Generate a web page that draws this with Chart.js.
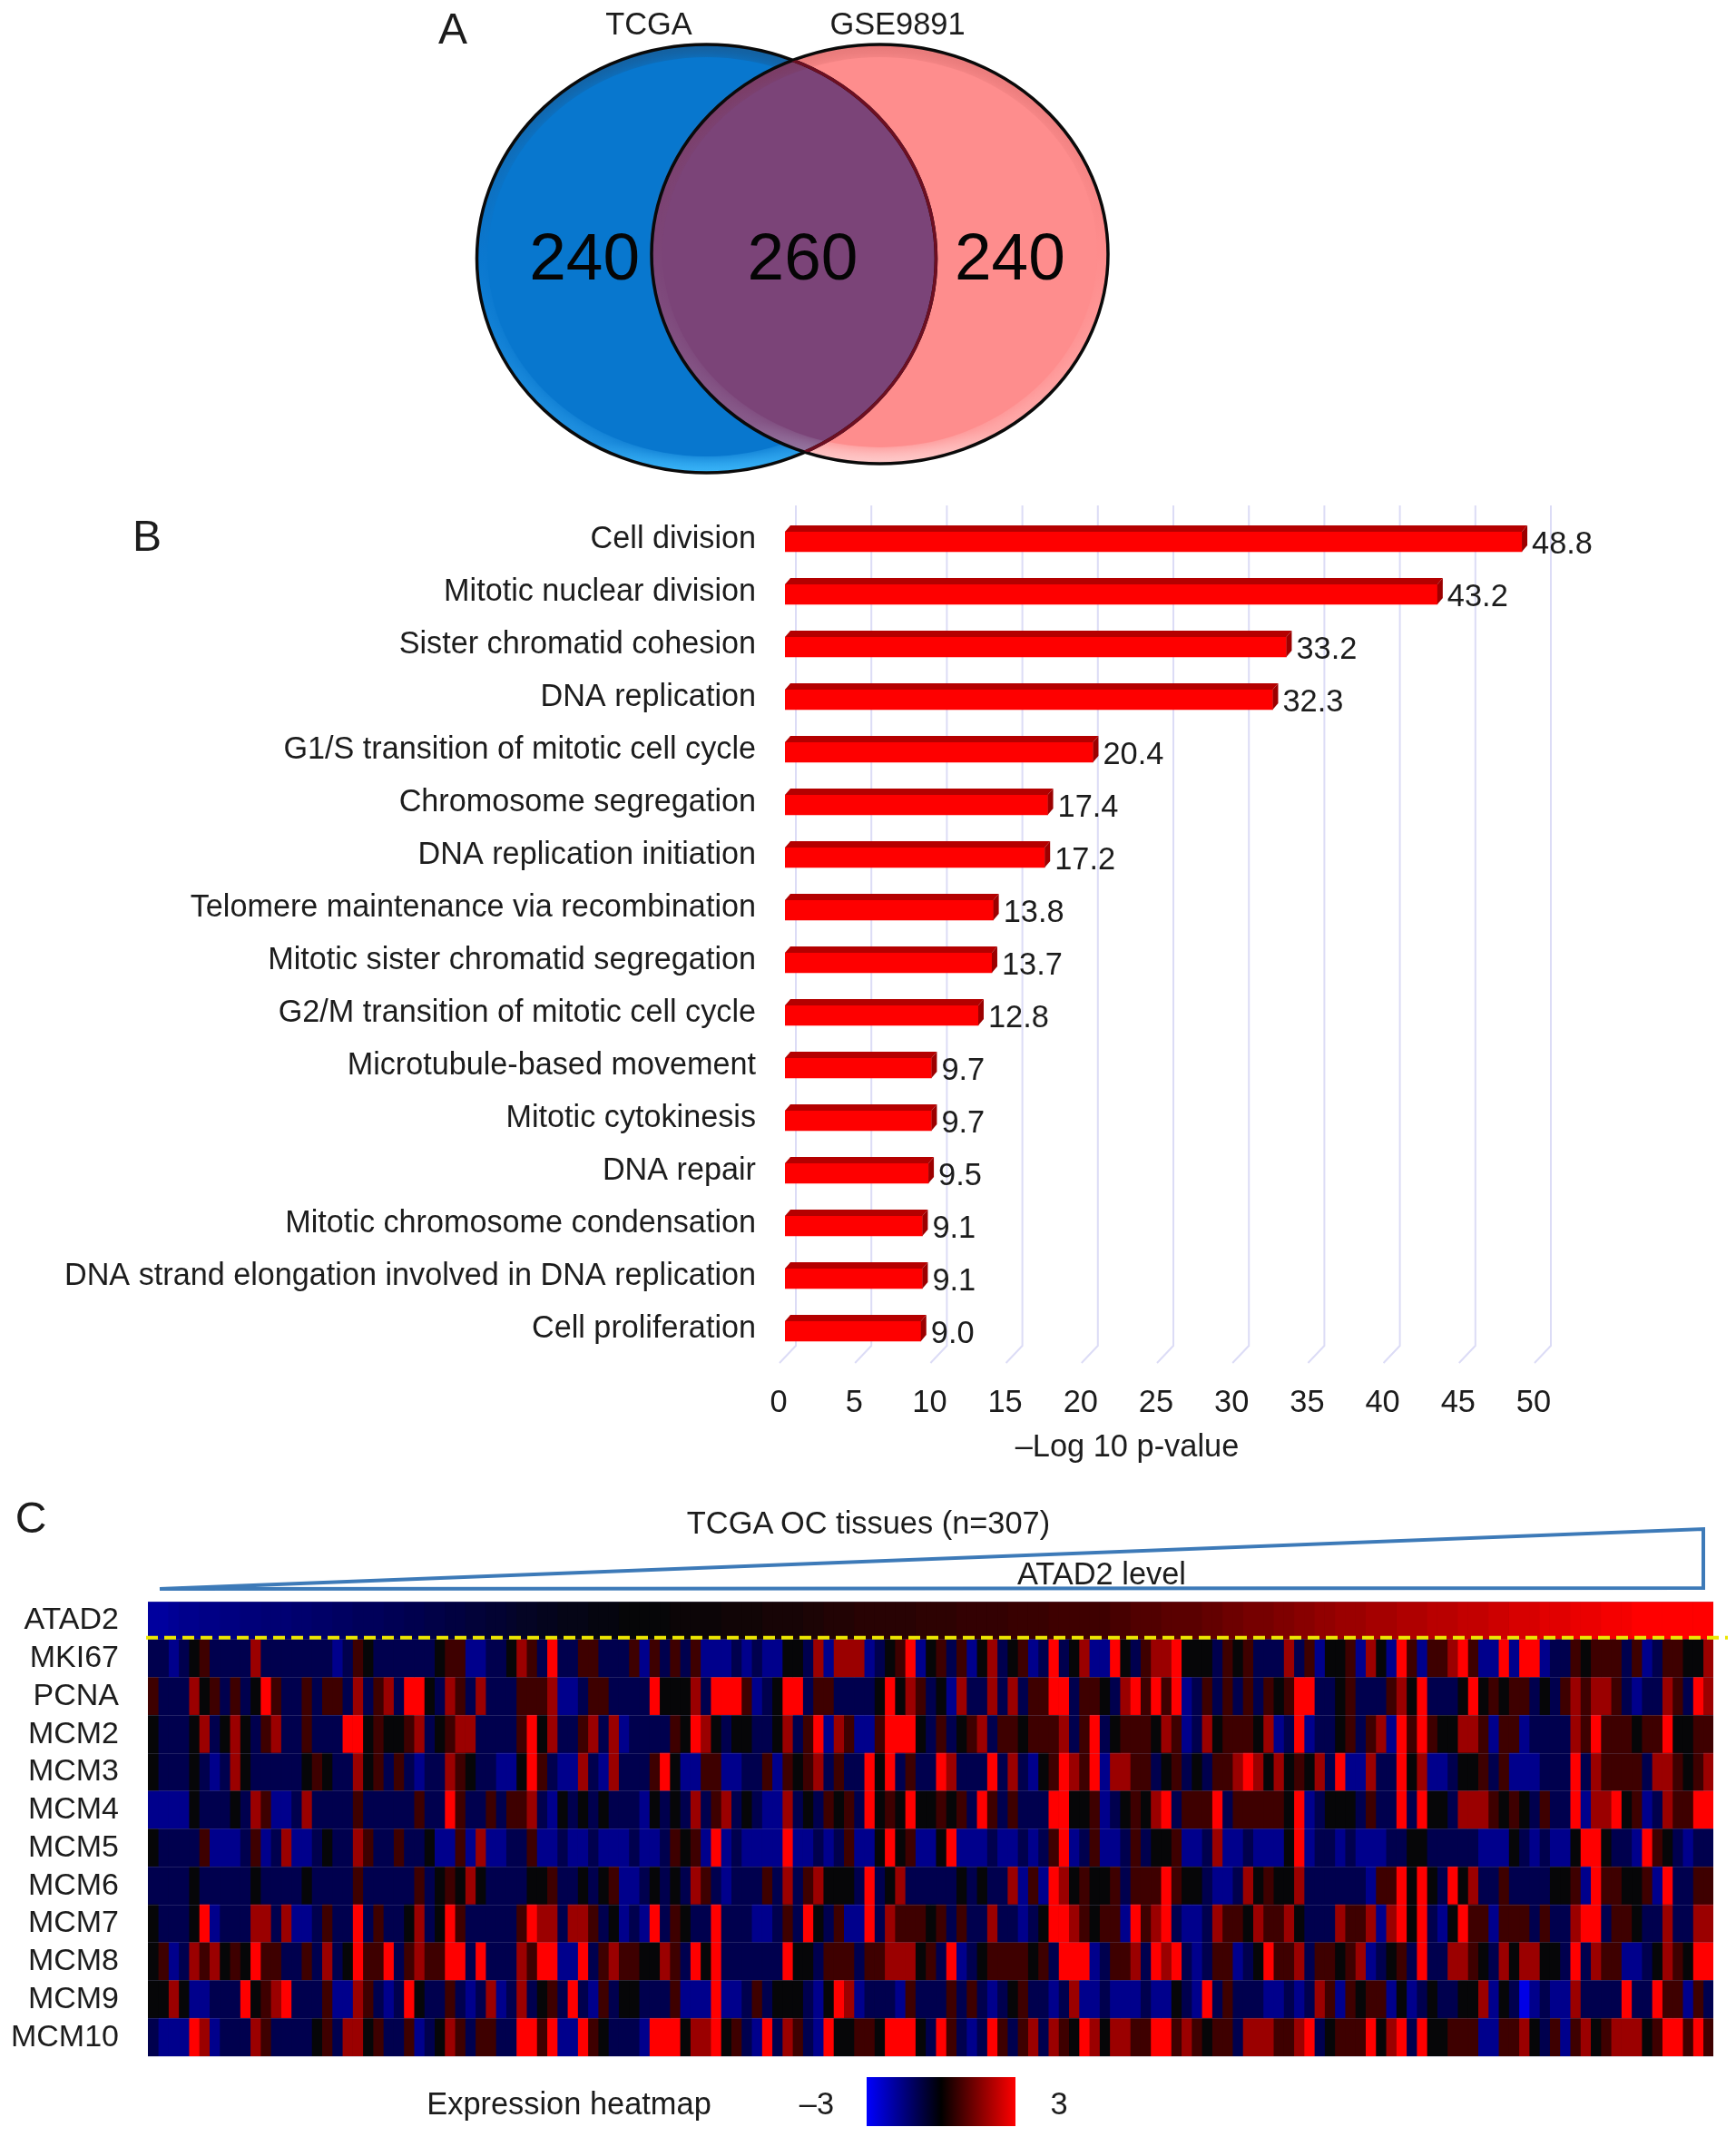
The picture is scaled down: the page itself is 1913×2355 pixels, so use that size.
<!DOCTYPE html>
<html>
<head>
<title>ATAD2 figure</title>
<script src="https://cdn.jsdelivr.net/npm/chart.js"></script>
<style>
  html, body { margin: 0; background: #fff; }
  #page { position: relative; width: 1913px; height: 2355px; overflow: hidden; font-family: "Liberation Sans", Arial, sans-serif; color: #1c1c1c; }
  canvas { position: absolute; left: 0; }
  .t { position: absolute; transform: translate(-50%, -50%); font-size: 34.4px; white-space: nowrap; }
  .panel { font-size: 48px; }
  #scale { position: absolute; left: 955px; top: 2289px; width: 164px; height: 54px; background: linear-gradient(90deg, #0000ff, #000 50%, #ff0000); }
</style>
</head>
<body>
<div id="page">
  <canvas id="vennChart" width="1913" height="540" style="top:0"></canvas>
  <canvas id="termChart" width="1913" height="1100" style="top:540px"></canvas>
  <canvas id="heatChart" width="1913" height="695" style="top:1660px"></canvas>
  <div class="t panel" style="left:499px;top:31px">A</div>
  <div class="t panel" style="left:162px;top:590px">B</div>
  <div class="t panel" style="left:34px;top:1672px">C</div>
  <div class="t" style="left:715px;top:26px">TCGA</div>
  <div class="t" style="left:989px;top:26px">GSE9891</div>
  <div class="t" style="left:1242px;top:1593px">–Log 10 p-value</div>
  <div class="t" style="left:957px;top:1678px">TCGA OC tissues (n=307)</div>
  <div class="t" style="left:1214px;top:1734px">ATAD2 level</div>
  <div class="t" style="left:627px;top:2318px">Expression heatmap</div>
  <div class="t" style="left:900px;top:2318px">–3</div>
  <div id="scale"></div>
  <div class="t" style="left:1167px;top:2318px">3</div>
</div>
<script>
// panel A
const vennRegions = ['TCGA only', 'Both', 'GSE9891 only'];
const vennCounts = [240, 260, 240];

// panel B
const terms = ['Cell division', 'Mitotic nuclear division', 'Sister chromatid cohesion', 'DNA replication',
  'G1/S transition of mitotic cell cycle', 'Chromosome segregation', 'DNA replication initiation',
  'Telomere maintenance via recombination', 'Mitotic sister chromatid segregation',
  'G2/M transition of mitotic cell cycle', 'Microtubule-based movement', 'Mitotic cytokinesis', 'DNA repair',
  'Mitotic chromosome condensation', 'DNA strand elongation involved in DNA replication', 'Cell proliferation'];
const logP = [48.8, 43.2, 33.2, 32.3, 20.4, 17.4, 17.2, 13.8, 13.7, 12.8, 9.7, 9.7, 9.5, 9.1, 9.1, 9.0];
const logPText = ['48.8', '43.2', '33.2', '32.3', '20.4', '17.4', '17.2', '13.8', '13.7', '12.8', '9.7', '9.7', '9.5', '9.1', '9.1', '9.0'];

// panel C, expression read by eye, binned columns
const genes = ['ATAD2', 'MKI67', 'PCNA', 'MCM2', 'MCM3', 'MCM4', 'MCM5', 'MCM6', 'MCM7', 'MCM8', 'MCM9', 'MCM10'];
const ATAD2 = [-2.2,-2.2,-2.1,-2.0,-2.0,-1.9,-1.9,-1.8,-1.8,-1.7,-1.7,-1.6,-1.6,-1.6,-1.5,-1.5,-1.4,-1.4,-1.3,-1.3,-1.2,-1.2,-1.2,-1.1,-1.1,-1.0,-1.0,-0.9,-0.9,-0.8,-0.8,-0.7,-0.7,-0.6,-0.6,-0.5,-0.4,-0.4,
  -0.3,-0.3,-0.2,-0.2,-0.2,-0.1,-0.1,-0.1,0,0,0,0,0,0.1,0.1,0.1,0.1,0.1,0.2,0.2,0.2,0.2,0.3,0.3,0.3,0.3,0.4,0.4,0.5,0.5,0.5,0.6,0.6,0.6,0.6,0.6,0.6,0.7,0.7,
  0.7,0.7,0.8,0.8,0.8,0.8,0.8,0.9,0.9,0.9,0.9,1,1,1,1,1,1,1.1,1.1,1.2,1.2,1.2,1.3,1.3,1.3,1.3,1.4,1.4,1.5,1.5,1.6,1.6,1.6,1.7,1.7,1.8,1.8,1.9,1.9,
  2,2,2,2.1,2.1,2.1,2.2,2.2,2.2,2.3,2.3,2.3,2.4,2.4,2.4,2.5,2.5,2.6,2.6,2.6,2.7,2.7,2.7,2.8,2.8,2.8,2.9,2.9,2.9,3,3,3,3,3,3,3,3];
const MKI67 = [-1,-1,-2,-1,0,1,-1,-1,-1,-1,2,-1,-1,-1,-1,-1,-1,-1,-2,-1,1,0,-1,-1,-1,-1,-1,-1,0,1,1,-2,-2,-1,-1,0,2,1,
  -1,3,-1,-1,1,1,-1,-1,-1,1,-2,1,-1,1,-1,1,-2,-2,-2,-1,-2,-1,-2,-2,0,0,-1,2,-2,2,2,2,-2,-1,0,1,3,-2,0,
  1,-1,1,-2,0,2,-1,0,1,-2,-1,3,-1,0,2,-2,-2,3,0,-1,1,2,2,3,0,0,0,-1,1,0,1,-1,-1,-1,2,-1,1,-2,0,
  0,1,-2,2,0,-2,3,1,-2,1,1,2,3,1,-2,-2,3,-2,3,3,-2,-1,-1,1,0,1,1,1,-1,1,-2,-1,1,1,0,0,2];
const PCNA = [1,-1,-1,-1,2,0,1,-1,1,-1,0,3,1,-1,-1,1,-1,1,1,-1,2,-1,1,2,-1,3,3,0,-1,2,1,-1,2,-1,-1,-1,1,1,
  1,2,-2,-2,-1,1,1,-1,-1,-1,-1,3,0,0,0,2,-1,3,3,3,1,-2,-1,0,3,3,-1,1,1,-1,-1,-1,-1,0,3,0,2,1,-1,
  0,-2,2,-1,-1,2,-1,2,-1,1,1,3,3,-1,1,1,0,-1,2,3,1,3,1,3,-2,-1,1,-1,1,-1,1,-1,1,0,1,3,3,-1,-1,
  0,1,-1,-1,-1,1,2,0,3,-1,-1,-1,0,3,0,1,0,1,1,-1,0,-1,1,2,1,2,2,1,-1,-2,-1,-1,2,1,-1,3,2];
const MCM2 = [0,-1,-1,-1,0,2,-1,0,2,0,-1,1,2,-1,-1,1,-1,-1,-1,3,3,0,1,0,0,1,2,-1,0,1,2,2,-1,-1,-1,-1,1,3,
  0,2,-1,-1,1,2,-1,2,-2,-1,-1,-1,-1,1,0,3,2,0,-1,0,0,-1,-1,0,2,-1,1,3,-2,2,1,-2,-2,1,3,3,3,0,-1,
  1,-1,0,1,2,-1,1,1,0,1,1,1,2,-1,1,3,-1,0,1,1,1,0,2,1,-2,-1,2,0,1,1,1,0,2,-2,-1,3,-2,-1,-1,
  0,1,-1,1,2,-2,3,1,3,1,0,0,2,2,1,-2,1,1,-2,-1,-1,-1,-1,2,1,3,1,1,1,0,1,1,3,0,0,1,1];
const MCM3 = [0,-1,-1,-1,0,-1,-2,-1,2,0,-1,-1,-1,-1,-1,0,1,0,-1,-1,2,0,1,-1,1,-1,-2,-1,-1,2,1,0,-1,-1,-2,-2,0,3,
  1,-1,-2,-2,2,-1,-2,2,-1,-1,-1,1,3,0,-2,-2,1,1,-2,-2,-1,-1,1,-2,1,0,1,2,-1,1,-1,-1,3,0,3,-1,1,-1,-1,
  3,2,-1,-1,-1,3,-1,2,-1,-2,0,1,3,2,1,3,-2,2,2,1,1,-1,0,1,-1,0,-1,1,1,2,3,2,0,2,0,1,0,2,-1,
  3,-2,-2,2,-1,-1,3,0,2,-2,-2,-1,0,0,1,-1,1,-2,-2,-2,-1,-1,-1,3,-1,2,1,1,1,1,-1,2,2,1,0,1,2];
const MCM4 = [-2,-2,-2,-2,0,-1,-1,-1,0,-1,2,1,-2,-2,-1,2,-1,-1,-1,-1,1,-1,-1,-1,-1,-1,1,-1,-1,3,1,-1,-1,1,-1,1,1,2,
  -1,-2,0,-1,0,-1,0,-1,-1,-1,-2,0,-1,0,-1,2,-1,1,2,-1,0,-1,-2,-2,2,-1,0,-1,1,0,1,-1,3,0,1,0,3,0,0,
  1,0,1,-1,3,1,-1,1,-1,-1,-1,3,3,0,0,1,-2,-1,0,1,0,2,3,-1,1,1,1,3,-1,1,1,1,1,1,0,3,-2,-1,0,
  0,0,-1,1,-1,-1,3,-1,3,0,0,-1,2,2,2,1,0,1,0,-1,1,-1,-1,3,-2,2,2,3,0,1,-2,-1,2,1,1,3,3];
const MCM5 = [0,-1,-1,-1,-1,1,-2,-2,-2,-1,1,-2,-1,2,-2,-2,-1,0,-1,-1,2,1,-1,-1,1,-1,-1,0,-2,-2,1,-2,2,-2,-2,-1,-1,1,
  -2,-2,-1,-2,-2,-1,-2,-2,-2,-1,-2,-2,-1,1,0,1,-2,3,-2,-1,-2,-2,-2,-2,3,-2,-2,-1,-2,-1,1,-2,-2,0,3,0,1,-2,-2,
  0,3,-2,-2,-2,-1,-2,-2,-1,-2,-1,1,3,-2,-1,1,-2,-2,-1,1,-1,0,0,1,-2,-2,-1,2,-2,-2,-1,-2,-2,-2,0,3,-2,-1,-1,
  -2,-1,-2,-2,-2,-1,-1,0,0,-1,-1,-1,-1,-1,-2,-2,-2,0,-1,-2,-1,-2,-2,0,3,3,0,-1,-1,-2,3,1,0,-1,-2,-1,-1];
const MCM6 = [-1,-1,-1,-1,0,-1,-1,-1,-1,-1,0,-1,-1,-1,-1,0,-1,-1,-1,-1,1,-1,-1,-1,-1,-1,1,-1,0,1,0,2,0,-1,-1,-1,-1,0,
  0,1,-1,-1,0,-1,0,1,-2,-2,-1,0,-1,0,-1,2,1,-1,-2,-1,-1,-1,1,-1,2,-1,1,2,0,0,0,-1,3,-1,0,2,-1,-1,-1,
  -1,-1,0,-1,0,-1,-1,2,-2,1,-2,3,2,0,1,0,0,1,-1,1,1,1,3,1,0,0,-1,-2,-2,-1,2,0,1,0,0,2,-1,-1,-1,
  -1,-1,-1,-2,1,1,3,0,3,0,-1,3,0,2,-1,-1,1,-1,-1,-1,-1,0,0,1,-2,3,1,1,0,0,1,-2,3,-1,-1,1,1];
const MCM7 = [0,-1,-1,-1,0,3,-2,-1,-1,-1,2,2,-1,2,-2,-2,-1,1,-1,-1,3,-1,1,-1,-1,0,2,-1,0,3,1,-1,-1,-1,-1,-1,1,3,
  2,2,-1,2,2,1,-1,0,-2,-1,-2,3,-1,1,0,-1,-1,3,-1,-1,-1,-2,-2,-1,1,-1,3,0,-1,1,-2,-2,3,-1,2,1,1,1,0,
  1,-1,1,-1,-1,2,-1,-1,-2,-1,0,3,3,2,1,0,1,1,-2,3,1,2,3,-1,-2,-2,-1,2,1,1,0,2,1,1,2,0,-1,-1,-1,
  2,1,1,2,-2,2,3,0,3,-1,-2,0,3,1,1,-2,1,1,1,-1,1,-1,-1,2,3,3,-1,1,1,0,-1,-1,2,-1,-1,2,2];
const MCM8 = [0,1,-2,-1,2,1,2,0,1,0,3,1,1,-1,-1,1,-1,2,-1,0,3,1,1,3,-1,1,2,1,1,3,3,-1,3,-1,-1,-1,2,1,
  3,3,-2,-2,3,-1,1,2,1,1,0,0,2,1,-1,3,0,3,-1,-1,-1,-1,-1,-1,3,0,0,-1,1,1,1,-1,1,1,2,2,2,0,1,
  -1,3,-2,-1,0,1,1,1,1,0,1,-1,3,3,3,-2,-1,1,1,2,-1,3,2,3,-1,-2,-1,1,1,-2,-1,0,3,1,1,2,-1,1,1,
  0,1,2,-2,-1,0,1,-1,3,-1,-1,2,2,1,0,-1,2,0,2,2,0,0,-1,3,-1,2,1,1,-2,-2,-1,0,2,1,0,3,3];
const MCM9 = [0,0,2,0,-2,-2,-1,-1,-1,3,0,1,2,3,-1,-1,-1,1,-2,-2,2,1,-1,-2,-1,3,0,-1,-1,1,-1,-2,-1,2,-2,-1,2,-1,
  0,1,-1,3,-1,-2,1,-1,0,0,-1,-1,-1,1,-2,-2,-2,3,-2,-2,-1,1,-1,0,0,0,-1,-2,0,3,2,-2,-1,-1,-1,-2,1,-1,-1,
  -1,1,-1,1,-1,-2,-1,0,1,-1,-1,-2,-1,2,-2,-2,-1,-2,-2,-2,-1,-2,-2,0,-1,-2,3,-1,1,-1,-1,-1,-2,-2,-1,-2,-1,2,1,
  -2,1,0,1,1,-2,0,-2,-1,0,-1,-1,0,0,2,-2,0,-1,-3,-2,-1,-2,-2,2,-1,-1,-1,-1,3,-1,-1,3,1,1,-2,1,-1];
const MCM10 = [-1,-2,-2,-2,3,2,-2,-1,-1,-1,2,1,-1,-1,-1,-1,0,1,-1,2,2,0,1,-1,-1,1,-2,-1,0,2,1,-1,1,1,-1,-1,3,3,
  1,3,-2,-2,3,1,0,-1,-1,-1,-2,3,3,3,0,2,2,3,0,1,-1,-2,3,-1,2,1,-1,-2,3,0,0,1,1,0,3,3,3,0,-1,
  3,1,-1,-2,-1,3,1,-1,1,2,-1,2,1,0,3,2,0,2,2,1,1,3,3,1,2,1,0,1,1,-1,2,2,2,1,1,2,3,-1,0,
  1,1,1,3,0,2,3,-1,3,0,0,1,1,1,-2,-2,1,1,2,0,-1,1,-2,1,2,0,1,2,2,2,0,1,3,3,1,3,1];
const rows = [ATAD2, MKI67, PCNA, MCM2, MCM3, MCM4, MCM5, MCM6, MCM7, MCM8, MCM9, MCM10];

Chart.defaults.font.family = '"Liberation Sans", Arial, sans-serif';
Chart.defaults.color = '#1c1c1c';
Chart.defaults.animation = false;
Chart.defaults.responsive = false;
Chart.defaults.devicePixelRatio = 1;
Chart.defaults.plugins.legend.display = false;
Chart.defaults.plugins.tooltip.enabled = false;

function ellipse(ctx, cx, cy, rx, ry) {
  ctx.beginPath();
  ctx.ellipse(cx, cy, rx, ry, 0, 0, Math.PI * 2);
}

function shaded(ctx, e, stops, inner) {
  const g = ctx.createLinearGradient(0, e.cy - e.ry, 0, e.cy + e.ry);
  stops.forEach(s => g.addColorStop(s[0], s[1]));
  ctx.fillStyle = g;
  ellipse(ctx, e.cx, e.cy, e.rx, e.ry);
  ctx.fill();
  ctx.save();
  ctx.shadowColor = inner;
  ctx.shadowBlur = 14;
  ctx.fillStyle = inner;
  ellipse(ctx, e.cx, e.cy - 2, e.rx - 12, e.ry - 16);
  ctx.fill();
  ctx.restore();
}

const vennPlugin = {
  id: 'venn',
  beforeDatasetsDraw(chart) {
    const ctx = chart.ctx;
    const L = { cx: 778.5, cy: 285, rx: 253, ry: 236 };
    const R = { cx: 969.5, cy: 280, rx: 251.5, ry: 231 };
    const x = chart.scales.x;
    ctx.save();
    shaded(ctx, L, [[0, '#14609f'], [0.5, '#0a78d0'], [0.93, '#1f90e0'], [1, '#38b4f8']], '#0877ce');
    shaded(ctx, R, [[0, '#e87a7a'], [0.5, '#ff8c8c'], [0.92, '#ffa8a8'], [1, '#ffcaca']], '#fe8d8d');
    // overlap
    ctx.save();
    ellipse(ctx, L.cx, L.cy, L.rx, L.ry);
    ctx.clip();
    shaded(ctx, R, [[0, '#7b3b62'], [0.5, '#7c4578'], [0.9, '#875a8a'], [1, '#9a80a8']], '#7b4478');
    ctx.restore();
    ctx.lineWidth = 3.5;
    ctx.strokeStyle = '#0a0a0a';
    ellipse(ctx, L.cx, L.cy, L.rx, L.ry);
    ctx.stroke();
    ellipse(ctx, R.cx, R.cy, R.rx, R.ry);
    ctx.stroke();
    ctx.save();
    ellipse(ctx, R.cx, R.cy, R.rx - 1, R.ry - 1);
    ctx.clip();
    ctx.strokeStyle = '#6d0f22';
    ellipse(ctx, L.cx, L.cy, L.rx, L.ry);
    ctx.stroke();
    ctx.restore();
    // counts
    const nudge = [0, 6, 0];
    ctx.fillStyle = '#050505';
    ctx.font = '73px "Liberation Sans", Arial, sans-serif';
    ctx.textAlign = 'center';
    ctx.textBaseline = 'middle';
    vennCounts.forEach((c, i) => ctx.fillText(String(c), x.getPixelForValue(i) + nudge[i], 288));
    ctx.restore();
  }
};

new Chart(document.getElementById('vennChart'), {
  type: 'line',
  data: { labels: vennRegions, datasets: [{ data: vennCounts, showLine: false, pointRadius: 0 }] },
  options: {
    layout: { padding: { left: 527, right: 683 } },
    scales: { x: { display: false, offset: true }, y: { display: false } }
  },
  plugins: [vennPlugin]
});

const barPlugin = {
  id: 'bar3d',
  beforeDatasetsDraw(chart) {
    const ctx = chart.ctx, x = chart.scales.x, area = chart.chartArea;
    ctx.save();
    ctx.lineWidth = 2;
    x.ticks.forEach(t => {
      const px = x.getPixelForValue(t.value) + 12;
      ctx.strokeStyle = '#dcdcf6';
      ctx.beginPath();
      ctx.moveTo(px, area.top - 11);
      ctx.lineTo(px, area.bottom - 13);
      ctx.lineTo(px - 18, area.bottom + 6);
      ctx.stroke();
    });
    ctx.restore();
  },
  afterDatasetsDraw(chart) {
    const ctx = chart.ctx;
    ctx.save();
    ctx.font = '34.4px "Liberation Sans", Arial, sans-serif';
    ctx.textBaseline = 'middle';
    chart.getDatasetMeta(0).data.forEach((el, i) => {
      const top = el.y - el.height / 2, bottom = el.y + el.height / 2;
      ctx.fillStyle = '#b40000';
      ctx.beginPath();
      ctx.moveTo(el.base, top);
      ctx.lineTo(el.base + 6, top - 7);
      ctx.lineTo(el.x + 6, top - 7);
      ctx.lineTo(el.x, top);
      ctx.closePath();
      ctx.fill();
      ctx.fillStyle = '#9c0000';
      ctx.beginPath();
      ctx.moveTo(el.x, top);
      ctx.lineTo(el.x + 6, top - 7);
      ctx.lineTo(el.x + 6, bottom - 7);
      ctx.lineTo(el.x, bottom);
      ctx.closePath();
      ctx.fill();
      ctx.fillStyle = '#1c1c1c';
      ctx.fillText(logPText[i], el.x + 11, el.y + 4);
    });
    ctx.restore();
  }
};

new Chart(document.getElementById('termChart'), {
  type: 'bar',
  data: { labels: terms, datasets: [{ data: logP, backgroundColor: '#fe0000', barThickness: 22 }] },
  options: {
    indexAxis: 'y',
    layout: { padding: { top: 28, right: 216 } },
    scales: {
      x: {
        min: 0, max: 50,
        ticks: { stepSize: 5, font: { size: 34.4 }, labelOffset: -7, padding: 22, maxRotation: 0 },
        grid: { display: false }, border: { display: false },
        afterFit: s => { s.height = 144; }
      },
      y: {
        ticks: { autoSkip: false, font: { size: 34.2 }, padding: 24, labelOffset: -2 },
        grid: { display: false }, border: { display: false },
        afterFit: s => { s.width = 865; s.paddingTop = 0; s.paddingBottom = 0; }
      }
    }
  },
  plugins: [barPlugin]
});

// colours of the levels as they look in the reference
const levelColors = [[-3, [0, 0, 230]], [-2, [0, 0, 140]], [-1, [0, 0, 78]], [0, [6, 6, 8]], [1, [62, 0, 0]], [2, [155, 0, 0]], [3, [255, 0, 0]]];

function expressionColor(v) {
  for (let i = 1; i < levelColors.length; i++) {
    const [a, ca] = levelColors[i - 1], [b, cb] = levelColors[i];
    if (v <= b) {
      const t = Math.max(0, (v - a) / (b - a));
      return `rgb(${ca.map((c, k) => Math.round(c + (cb[k] - c) * t)).join(',')})`;
    }
  }
  return 'rgb(255,0,0)';
}

const colCount = Math.max(...rows.map(r => r.length));
const heatDatasets = [];
for (let c = 0; c < colCount; c++) {
  heatDatasets.push({
    data: genes.map(() => 1),
    backgroundColor: rows.map(r => expressionColor(r[c] ?? 0)),
    borderWidth: 0,
    barPercentage: 1,
    categoryPercentage: 1
  });
}

const heatPlugin = {
  id: 'heatExtras',
  beforeDatasetsDraw(chart) {
    const ctx = chart.ctx, a = chart.chartArea;
    ctx.save();
    ctx.fillStyle = '#050520';
    ctx.fillRect(a.left, a.top, a.right - a.left, a.bottom - a.top);
    ctx.restore();
  },
  afterDraw(chart) {
    const ctx = chart.ctx, y = chart.scales.y;
    ctx.save();
    // wedge
    ctx.strokeStyle = '#3d7ab8';
    ctx.lineWidth = 4;
    ctx.lineJoin = 'miter';
    ctx.beginPath();
    ctx.moveTo(176, 91);
    ctx.lineTo(1877, 25);
    ctx.lineTo(1877, 90);
    ctx.closePath();
    ctx.stroke();
    // separator under ATAD2
    const sep = (y.getPixelForValue(0) + y.getPixelForValue(1)) / 2 - 2;
    ctx.strokeStyle = '#ece600';
    ctx.lineWidth = 4;
    ctx.setLineDash([13, 7]);
    ctx.beginPath();
    ctx.moveTo(161, sep);
    ctx.lineTo(1904, sep);
    ctx.stroke();
    ctx.restore();
  }
};

new Chart(document.getElementById('heatChart'), {
  type: 'bar',
  data: { labels: genes, datasets: heatDatasets },
  options: {
    indexAxis: 'y',
    layout: { padding: { top: 105, right: 25, bottom: 89 } },
    scales: {
      x: { display: false, stacked: true, min: 0, max: colCount },
      y: {
        stacked: true,
        ticks: { autoSkip: false, font: { size: 34 }, padding: 32, labelOffset: 0 },
        grid: { color: 'rgba(130,130,170,0.25)', z: 1, drawTicks: false },
        border: { display: false },
        afterFit: s => { s.width = 163; s.paddingTop = 0; s.paddingBottom = 0; }
      }
    }
  },
  plugins: [heatPlugin]
});
</script>
</body>
</html>
